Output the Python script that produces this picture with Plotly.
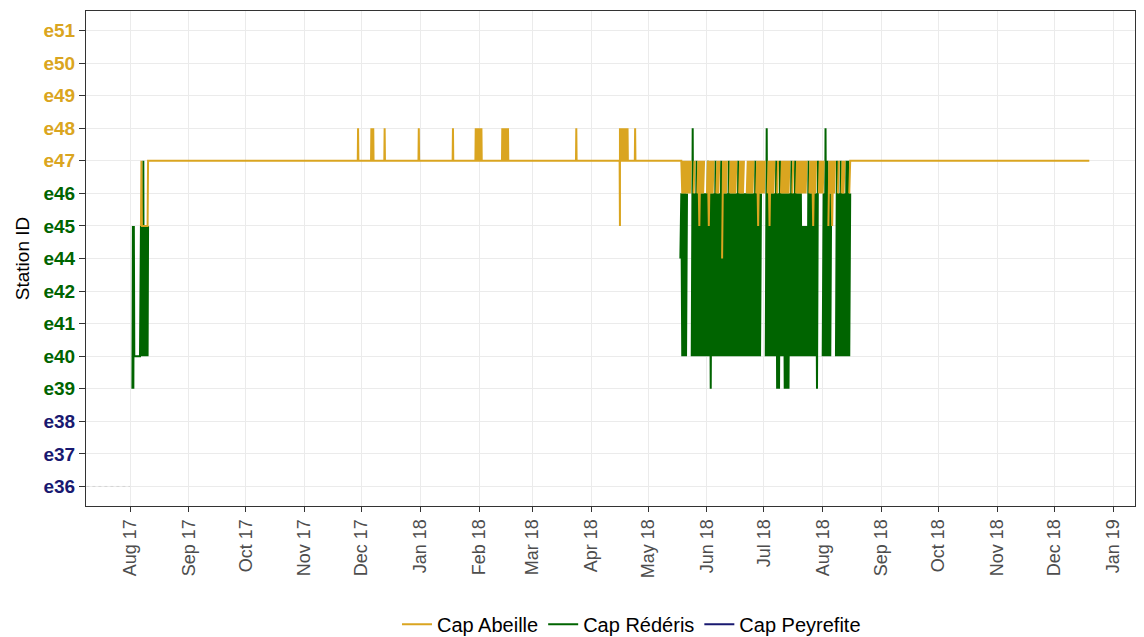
import pandas as pd
import plotly.graph_objects as go

# ---------------- data ----------------
stations = ["e36", "e37", "e38", "e39", "e40", "e41", "e42", "e44",
            "e45", "e46", "e47", "e48", "e49", "e50", "e51"]
label_colors = {
    "e36": "#191970", "e37": "#191970", "e38": "#191970",
    "e39": "#006400", "e40": "#006400", "e41": "#006400", "e42": "#006400",
    "e44": "#006400", "e45": "#006400", "e46": "#006400",
    "e47": "#DAA520", "e48": "#DAA520", "e49": "#DAA520", "e50": "#DAA520", "e51": "#DAA520",
}
series_names = ["Cap Abeille", "Cap Rédéris", "Cap Peyrefite"]
series_colors = ["#DAA520", "#006400", "#191970"]

# Cap Abeille: start of the track
abeille_start_dates = ["2017-08-06 18:00", "2017-08-07 00:00", "2017-08-07 06:00",
                       "2017-08-10 06:00", "2017-08-10 12:00"]
abeille_start_ids = ["e45", "e47", "e45", "e45", "e47"]
# Cap Abeille: short excursions away from e47
abeille_exc_days = ["2017-11-29", "2017-12-06", "2017-12-07", "2017-12-13", "2017-12-31",
                    "2018-01-18", "2018-01-30", "2018-01-31", "2018-02-01", "2018-02-02",
                    "2018-02-13", "2018-02-14", "2018-02-15", "2018-02-16", "2018-03-24",
                    "2018-04-16", "2018-04-16", "2018-04-17", "2018-04-18", "2018-04-19",
                    "2018-04-20", "2018-04-24"]
abeille_exc_ids = ["e48", "e48", "e48", "e48", "e48",
                   "e48", "e48", "e48", "e48", "e48",
                   "e48", "e48", "e48", "e48", "e48",
                   "e45", "e48", "e48", "e48", "e48",
                   "e48", "e48"]
abeille_base = "e47"
abeille_pre_end = "2018-05-17 12:00"
# daily ranges during the busy period (from 2018-05-18), None = no detection
dense_start = "2018-05-18"
abeille_daily = [
    "47", "46-47", "46-47", "46-47", "46-47", "46-47", None, "46-47", None, "46-47",
    "45-47", "46-47", "46-47", None, "46-47", "45-47", "46-47", "46-47", None, "46-47",
    "46-47", None, "44-47", "46-47", "46-47", None, "46-47", "46-47", "46-47", "46-47",
    None, "46-47", "46-47", "46-47", None, "46-47", "46-47", "46-47", "46-47", None,
    "46-47", "45-47", "46-47", "46-47", "46-47", None, "46-47", "45-47", "46-47", "46-47",
    None, "46-47", None, "46-47", "46-47", "46-47", "46-47", "46-47", None, "46-47",
    None, "46-47", "46-47", "46-47", "46-47", "46-47", "46-47", None, "46-47", "46-47",
    "45-47", "46-47", None, "46-47", "46-47", "46-47", None, None, "45-47", "46-47",
    "45-47", "46-47", None, "46-47", None, "46-47", "46-47", None, None, "46-47",
]
abeille_end_dates = ["2018-08-16 00:00", "2018-12-19 12:00"]
abeille_end_ids = ["e47", "e47"]

# Cap Rédéris: start of the track
rederis_start_dates = ["2017-08-02 06:00", "2017-08-02 12:00", "2017-08-02 18:00",
                       "2017-08-03 00:00", "2017-08-03 06:00",
                       "2017-08-06 06:00", "2017-08-06 18:00", "2017-08-07 06:00",
                       "2017-08-07 18:00", "2017-08-08 00:00", "2017-08-08 06:00",
                       "2017-08-08 18:00", "2017-08-09 06:00", "2017-08-09 18:00",
                       "2017-08-10 06:00", "2017-08-10 12:00"]
rederis_start_ids = ["e39", "e45", "e39", "e45", "e40", "e40", "e45", "e40", "e45", "e47", "e40",
                     "e45", "e40", "e45", "e40", "e45"]
rederis_daily = [
    "44-46", "40-46", "40-46", "40-46", None, None, "40-48", "40-46", "40-47", "40-46",
    "40-46", "40-46", "40-46", "40-46", "40-47", "40-46", "39-46", "40-46", "40-47", "40-46",
    "40-46", "40-47", "40-46", "40-46", "40-46", "40-47", "40-46", "40-46", "40-46", "40-46",
    "40-47", "40-46", "40-46", "40-46", "40-46", "40-46", "40-46", "40-46", "40-46", "40-47",
    "40-46", "40-46", "40-46", None, None, "40-48", "40-46", "40-46", "40-46", "40-46",
    "40-47", "39-46", "39-47", "40-46", "40-46", "39-46", "39-46", "39-46", "40-47", "40-46",
    "40-47", "40-46", "40-46", "40-46", "40-45", "40-45", "40-45", "40-47", "40-46", "40-46",
    "40-46", "40-46", "39-47", None, None, "40-46", "40-48", "40-47", "40-46", "40-46",
    None, None, "40-47", "40-46", "40-47", "40-46", "40-46", "40-47", "40-47", "40-46",
]

# faint guide at e36 (Cap Peyrefite, no detections)
peyrefite_guide_dates = ["2017-07-09", "2017-08-01"]
peyrefite_guide_ids = ["e36", "e36"]


# ---------------- build tracks ----------------
def daily_points(entries, start):
    xs, ys = [], []
    t0 = pd.Timestamp(start)
    for i, e in enumerate(entries):
        day = t0 + pd.Timedelta(days=i)
        if e is None:
            xs.append(None)
            ys.append(None)
            continue
        parts = e.split("-")
        lo, hi = "e" + parts[0], "e" + parts[-1]
        xs += [day, day + pd.Timedelta(hours=12)]
        ys += [lo, hi]
    return xs, ys


ab_x = [pd.Timestamp(d) for d in abeille_start_dates]
ab_y = list(abeille_start_ids)
for d, s in zip(abeille_exc_days, abeille_exc_ids):
    t = pd.Timestamp(d)
    ab_x += [t, t + pd.Timedelta(hours=4), t + pd.Timedelta(hours=8)]
    ab_y += [abeille_base, s, abeille_base]
ab_x.append(pd.Timestamp(abeille_pre_end))
ab_y.append(abeille_base)
dx, dy = daily_points(abeille_daily, dense_start)
ab_x += dx
ab_y += dy
ab_x += [pd.Timestamp(d) for d in abeille_end_dates]
ab_y += abeille_end_ids

rd_x = [pd.Timestamp(d) for d in rederis_start_dates]
rd_y = list(rederis_start_ids)
rd_x.append(None)
rd_y.append(None)
dx, dy = daily_points(rederis_daily, dense_start)
rd_x += dx
rd_y += dy

fig = go.Figure()
fig.add_trace(go.Scatter(x=peyrefite_guide_dates, y=peyrefite_guide_ids, mode="lines",
                         line=dict(color="#d4d4d4", width=1, dash="dot"),
                         showlegend=False, hoverinfo="skip"))
fig.add_trace(go.Scatter(x=rd_x, y=rd_y, mode="lines", name=series_names[1],
                         line=dict(color=series_colors[1], width=2), connectgaps=False,
                         legendrank=2))
fig.add_trace(go.Scatter(x=ab_x, y=ab_y, mode="lines", name=series_names[0],
                         line=dict(color=series_colors[0], width=2), connectgaps=False,
                         legendrank=1))
fig.add_trace(go.Scatter(x=[None], y=[None], mode="lines", name=series_names[2],
                         line=dict(color=series_colors[2], width=2), legendrank=3))

ticktext = ["<b><span style='color:%s'>%s</span></b>" % (label_colors[s], s) for s in stations]

fig.update_layout(
    width=1144, height=637,
    margin=dict(l=86, r=9, t=11, b=131, autoexpand=False),
    paper_bgcolor="white", plot_bgcolor="white",
    font=dict(family="Liberation Sans, Arial, sans-serif", color="#000000"),
    legend=dict(orientation="h", x=0.52, xanchor="center",
                yref="container", y=0.02, yanchor="middle",
                font=dict(size=20, color="#000000"), traceorder="normal",
                itemwidth=30),
    showlegend=True,
)
fig.update_xaxes(
    type="date", automargin=False,
    range=["2017-07-08 19:00", "2019-01-12 14:00"],
    tick0="2017-08-01", dtick="M1", tickformat="%b %y", tickangle=-90,
    tickfont=dict(size=18, color="#4D4D4D"),
    ticks="outside", ticklen=5, tickcolor="#333333",
    showgrid=True, gridcolor="#EBEBEB", gridwidth=1,
    showline=True, linecolor="#333333", linewidth=1, mirror=True,
    zeroline=False,
)
fig.update_yaxes(
    type="category", categoryorder="array", categoryarray=stations, automargin=False,
    tickvals=stations, ticktext=ticktext,
    range=[-0.6, 14.6],
    tickfont=dict(size=19),
    ticks="outside", ticklen=6, tickcolor="#333333",
    showgrid=True, gridcolor="#EBEBEB", gridwidth=1,
    showline=True, linecolor="#333333", linewidth=1, mirror=True,
    title=dict(text="Station ID", font=dict(size=19, color="#000000"), standoff=8),
    zeroline=False,
)

fig.write_html("out.html", include_plotlyjs=True, full_html=True,
               config={"displayModeBar": False},
               post_script="document.body.style.margin='0';")
